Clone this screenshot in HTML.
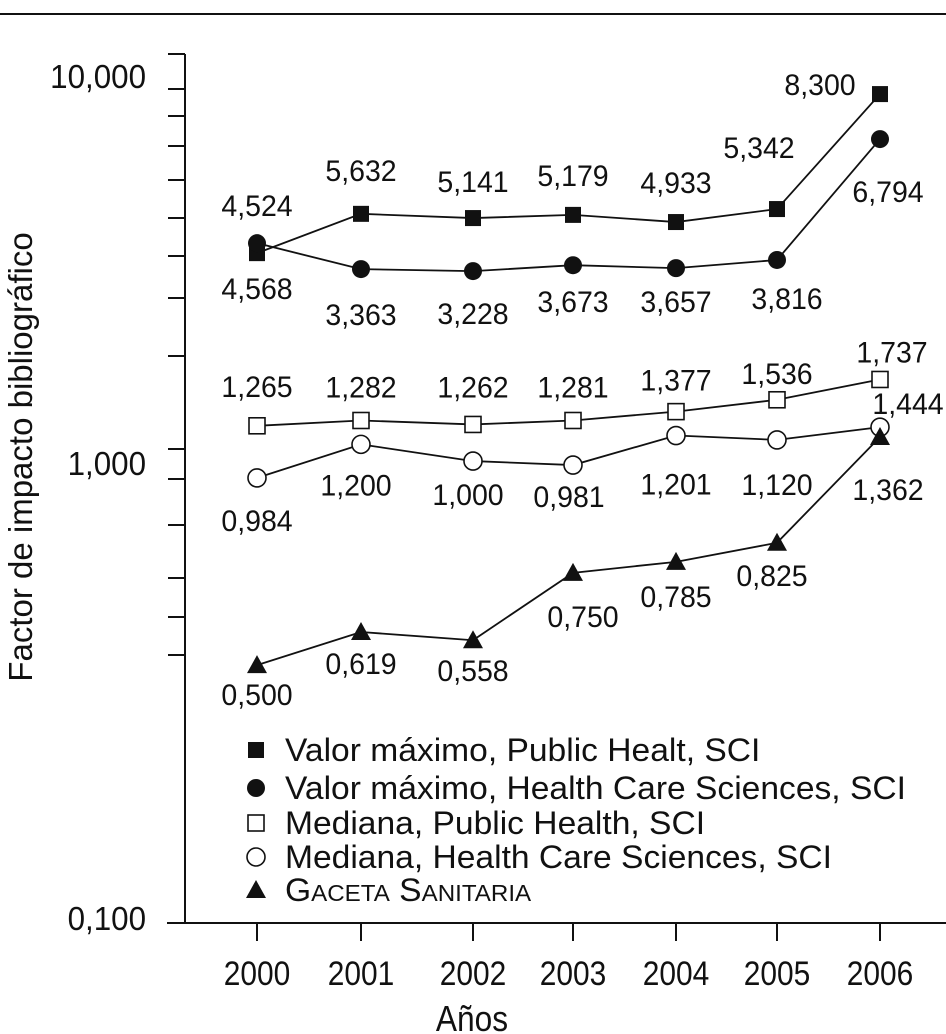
<!DOCTYPE html>
<html><head><meta charset="utf-8"><style>
html,body{margin:0;padding:0;background:#fff;}
svg{display:block;font-family:"Liberation Sans",Arial,sans-serif;}
</style></head><body>
<svg id="chart" width="946" height="1034" viewBox="0 0 946 1034" xmlns="http://www.w3.org/2000/svg">
<line x1="0" y1="14" x2="946" y2="14" stroke="#111" stroke-width="2"/>
<g id="axes"></g>
<g id="series"></g>
<g id="labels"></g>
<g id="legend"></g>
</svg>
<script>
const years = ["2000","2001","2002","2003","2004","2005","2006"];
const maxPublicHealth = [3.50, 4.50, 4.38, 4.47, 4.27, 4.64, 9.68];
const maxHealthCare = [3.73, 3.16, 3.12, 3.24, 3.18, 3.35, 7.26];
const medPublicHealth = [1.16, 1.20, 1.17, 1.20, 1.27, 1.37, 1.56];
const medHealthCare = [0.869, 1.03, 0.943, 0.925, 1.09, 1.06, 1.15];
const gaceta = [0.350, 0.411, 0.395, 0.548, 0.578, 0.634, 1.08];
const lblMaxPH = ["4,524","5,632","5,141","5,179","4,933","5,342","8,300"];
const lblMaxHC = ["4,568","3,363","3,228","3,673","3,657","3,816","6,794"];
const lblMedPH = ["1,265","1,282","1,262","1,281","1,377","1,536","1,737"];
const lblMedHC = ["0,984","1,200","1,000","0,981","1,201","1,120","1,444"];
const lblGaceta = ["0,500","0,619","0,558","0,750","0,785","0,825","1,362"];
const yTickValues = [10, 1, 0.1];
const yTickLabels = ["10,000","1,000","0,100"];

const NS="http://www.w3.org/2000/svg";
const xPos=[257,361,473,573,676,777,880];
function x(i){return xPos[i];}
function y(v){const l=Math.log10(v); return l>=0 ? 449-l*360 : 449-l*474;}
function mk(tag,attrs,parent){const e=document.createElementNS(NS,tag);for(const k in attrs)e.setAttribute(k,attrs[k]);parent.appendChild(e);return e;}
function txt(s,cx,cy,size,parent,anchor,sx){const t=mk("text",{"font-size":size,"text-anchor":anchor||"middle",fill:"#111",transform:`translate(${cx},${cy}) scale(${sx||0.9},1)`},parent);t.textContent=s;return t;}

const axes=document.getElementById("axes");
let a=mk("line",{x1:185,y1:54,x2:185,y2:923,stroke:"#111","stroke-width":2},axes);


a=mk("line",{x1:167,y1:923,x2:946,y2:923,stroke:"#111","stroke-width":2},axes);


[54,89,116,146,180,218,256,298,356,449,479,525,578,617,655,923].forEach(ty=>{
  const t=mk("line",{x1:168,y1:ty,x2:185,y2:ty,stroke:"#111","stroke-width":2},axes);
  
  
});
const yLblY=[88,475,930];
yTickValues.forEach((v,i)=>{
  const t=txt(yTickLabels[i],146,yLblY[i],33,axes,"end",0.95);
  
  
});
years.forEach((yr,i)=>{
  const t=mk("line",{x1:x(i),y1:923,x2:x(i),y2:941,stroke:"#111","stroke-width":2},axes);
  
  
  const l=txt(yr,x(i),985,34,axes,"middle",0.88);
  
  
});
let tt=txt("Años",472,1031,36,axes,"middle",0.88);


tt=mk("text",{"font-size":33,"text-anchor":"middle",fill:"#111",transform:"translate(32,457) rotate(-90) scale(1,1)"},axes);
tt.textContent="Factor de impacto bibliográfico";



function marker(kind,cx,cy,parent){
  let e;
  if(kind==="sq") e=mk("rect",{x:cx-8,y:cy-8,width:16,height:16,fill:"#111"},parent);
  else if(kind==="osq") e=mk("rect",{x:cx-8,y:cy-8,width:16,height:16,fill:"#fff",stroke:"#111","stroke-width":1.6},parent);
  else if(kind==="ci") e=mk("circle",{cx:cx,cy:cy,r:9,fill:"#111"},parent);
  else if(kind==="oci") e=mk("circle",{cx:cx,cy:cy,r:9,fill:"#fff",stroke:"#111","stroke-width":1.6},parent);
  else e=mk("polygon",{points:`${cx},${cy-10} ${cx+10},${cy+8} ${cx-10},${cy+8}`,fill:"#111"},parent);
  return e;
}
const seriesG=document.getElementById("series");
const labelsG=document.getElementById("labels");
const defs=[
 {name:"max-public-health",vals:maxPublicHealth,kind:"sq",lbl:lblMaxPH,off:[[0,-48],[0,-44],[0,-37],[0,-40],[0,-40],[-18,-62],[-60,-10]]},
 {name:"max-health-care",vals:maxHealthCare,kind:"ci",lbl:lblMaxHC,off:[[0,45],[0,45],[0,42],[0,36],[0,33],[10,38],[8,52]]},
 {name:"median-public-health",vals:medPublicHealth,kind:"osq",lbl:lblMedPH,off:[[0,-40],[0,-34],[0,-38],[0,-34],[0,-32],[0,-27],[12,-28]]},
 {name:"median-health-care",vals:medHealthCare,kind:"oci",lbl:lblMedHC,off:[[0,42],[-5,40],[-5,33],[-4,31],[0,48],[0,44],[28,-24]]},
 {name:"gaceta-sanitaria",vals:gaceta,kind:"tri",lbl:lblGaceta,off:[[0,29],[0,31],[0,30],[10,43],[0,34],[-5,32],[8,52]]}
];
defs.forEach(s=>{
  const g=mk("g",{},seriesG);
  
  
  const pts=s.vals.map((v,i)=>`${x(i)},${y(v)}`).join(" ");
  const pl=mk("polyline",{points:pts,fill:"none",stroke:"#111","stroke-width":1.8},g);
  
  
  s.vals.forEach((v,i)=>{
    const m=marker(s.kind,x(i),y(v),g);
    
    
    const t=txt(s.lbl[i],x(i)+s.off[i][0],y(v)+s.off[i][1]+11,30,labelsG,"middle",0.95);
    
    
  });
});

const legendG=document.getElementById("legend");
const legItems=[["sq","Valor máximo, Public Healt, SCI"],["ci","Valor máximo, Health Care Sciences, SCI"],["osq","Mediana, Public Health, SCI"],["oci","Mediana, Health Care Sciences, SCI"],["tri","GACETA"]];
const legY=[750,788,823,857,890];
legItems.forEach((it,i)=>{
  const g=mk("g",{},legendG);
  
  
  const m=marker(it[0],256,legY[i],g);
  
  
  let t;
  if(i<4){ t=txt(it[1],285,legY[i]+11,32,g,"start",1.05); }
  else {
    t=mk("text",{"font-size":32,fill:"#111",transform:`translate(285,${legY[i]+11}) scale(1.05,1)`},g);
    t.innerHTML='G<tspan font-size="23">ACETA</tspan> S<tspan font-size="23">ANITARIA</tspan>';
  }
  
  
});
</script>
</body></html>
